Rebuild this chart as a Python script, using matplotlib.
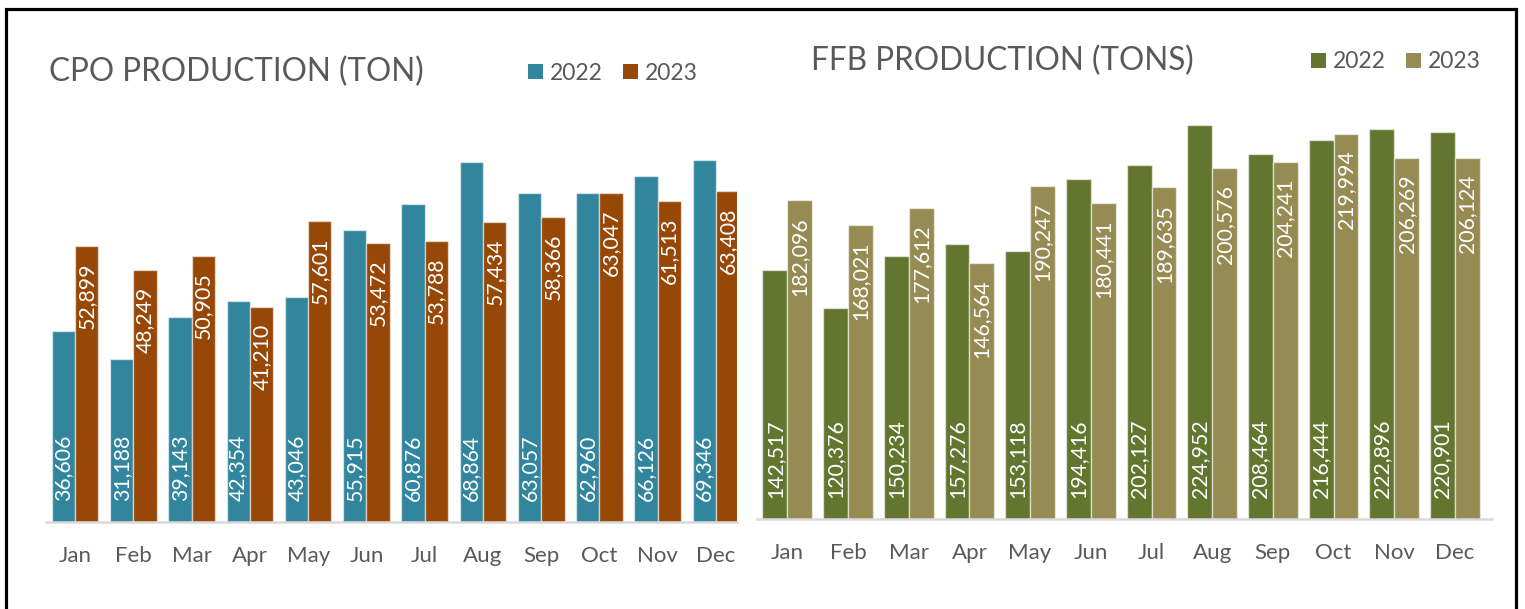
import matplotlib
matplotlib.use("Agg")
import matplotlib.pyplot as plt
from matplotlib.patches import Rectangle, Patch
import numpy as np

months = ["Jan", "Feb", "Mar", "Apr", "May", "Jun", "Jul", "Aug", "Sep", "Oct", "Nov", "Dec"]
cpo_2022 = [36606, 31188, 39143, 42354, 43046, 55915, 60876, 68864, 63057, 62960, 66126, 69346]
cpo_2023 = [52899, 48249, 50905, 41210, 57601, 53472, 53788, 57434, 58366, 63047, 61513, 63408]
ffb_2022 = [142517, 120376, 150234, 157276, 153118, 194416, 202127, 224952, 208464, 216444, 222896, 220901]
ffb_2023 = [182096, 168021, 177612, 146564, 190247, 180441, 189635, 200576, 204241, 219994, 206269, 206124]

plt.rcParams['font.family'] = ['Lato', 'DejaVu Sans']

W, H = 1525, 609
fig = plt.figure(figsize=(W / 100, H / 100), dpi=100)

GRAY = '#595959'
EDGE = (1, 1, 1, 0.55)


def px_axes(x0, x1, ybase, ytop):
    return fig.add_axes([x0 / W, (H - ybase) / H, (x1 - x0) / W, (ybase - ytop) / H])


def draw(ax, v22, v23, c22, c23, width, ymax, xright, title, title_xy, leg_xy):
    x = np.arange(len(months))
    ax.bar(x - width / 2, v22, width, color=c22, edgecolor=EDGE, linewidth=1)
    ax.bar(x + width / 2, v23, width, color=c23, edgecolor=EDGE, linewidth=1)
    ax.set_ylim(0, ymax)
    ax.set_xlim(-0.5, xright)
    ax.set_xticks(x)
    ax.set_xticklabels(months, fontsize=16, color=GRAY)
    ax.tick_params(axis='x', length=0, pad=17)
    ax.set_yticks([])
    for s in ['top', 'left', 'right']:
        ax.spines[s].set_visible(False)
    ax.spines['bottom'].set_color('#d9d9d9')
    ax.spines['bottom'].set_linewidth(1.8)
    for xi, v in zip(x, v22):
        ax.annotate(f"{v:,}", (xi - width / 2, 0), xytext=(0, 15), textcoords='offset points',
                    rotation=90, ha='center', va='bottom', color='white', fontsize=15.3)
    for xi, v in zip(x, v23):
        ax.annotate(f"{v:,}", (xi + width / 2, v), xytext=(0, -12), textcoords='offset points',
                    rotation=90, ha='center', va='top', color='white', fontsize=15.3)
    fig.text(title_xy[0] / W, 1 - title_xy[1] / H, title, fontsize=22.7, color=GRAY,
             ha='left', va='center')
    handles = [Patch(facecolor=c22), Patch(facecolor=c23)]
    fig.legend(handles, ['2022', '2023'], ncol=2, frameon=False, loc='center left',
               bbox_to_anchor=(leg_xy[0] / W, 1 - leg_xy[1] / H), fontsize=16.5,
               labelcolor=GRAY, handlelength=0.65, handleheight=0.65, handletextpad=0.3,
               columnspacing=0.9, borderpad=0, borderaxespad=0)


ax1 = px_axes(46, 737, 522, 104)
draw(ax1, cpo_2022, cpo_2023, '#31859C', '#974706', 0.4, 80000, 11.36,
     "CPO PRODUCTION (TON)", (49, 72), (528, 73))

ax2 = px_axes(757, 1492, 519, 81.5)
draw(ax2, ffb_2022, ffb_2023, '#63762F', '#958B53', 0.41, 250000, 11.61,
     "FFB PRODUCTION (TONS)", (811, 61), (1311, 62))

fig.patches.append(Rectangle((5.5 / W, -0.1), (1516 - 5.5) / W, (1 - 9 / H) + 0.1,
                             transform=fig.transFigure, fill=False, edgecolor='black',
                             linewidth=2.3, clip_on=False))

fig.savefig("out.png", dpi=100)
